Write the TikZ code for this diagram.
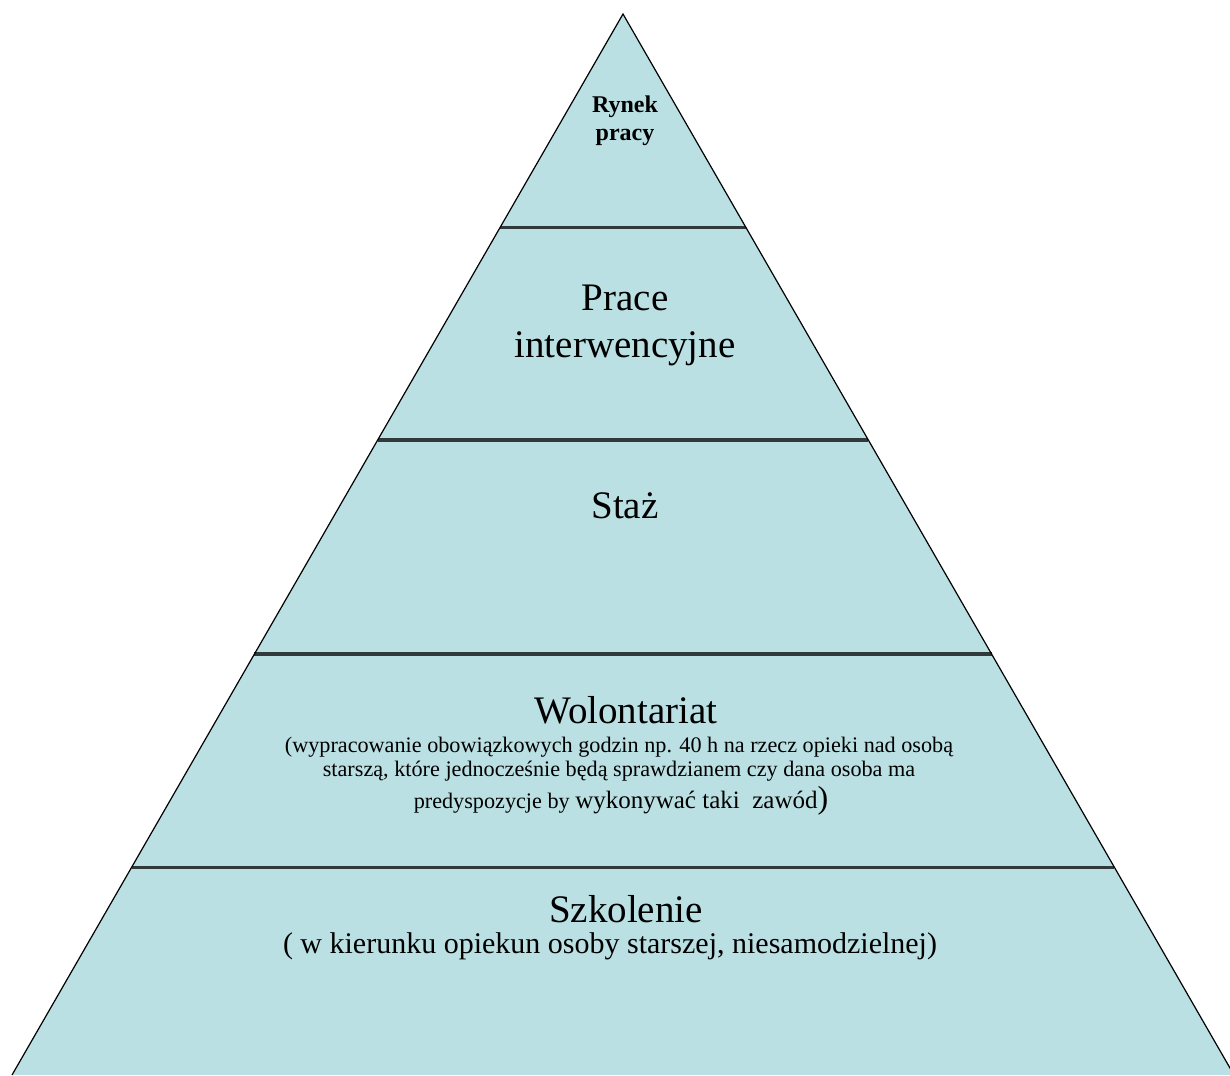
\documentclass[tikz,border=0pt]{standalone}
\usepackage{fontspec}
\setmainfont{Liberation Serif}
\usetikzlibrary{calc}
\definecolor{pyrfill}{RGB}{186,224,227}
\definecolor{divline}{RGB}{48,58,58}
\newcommand\pxsize[1]{\fontsize{\dimexpr #1pt*3/4\relax}{\dimexpr #1pt*3/4\relax}\selectfont}
\begin{document}
\begin{tikzpicture}[x=0.75pt,y=-0.75pt,
  lbl/.style={anchor=base, inner sep=0pt, text=black},
  divider/.style={draw=divline, line width=2.3pt},
  edge/.style={draw=black, line width=0.9pt}]
\useasboundingbox (0,0) rectangle (1230,1075);
\clip (0,0) rectangle (1230,1075);
\coordinate (apex) at (623,14);
\coordinate (bl) at (12,1075);
\coordinate (br) at (1234,1075);
\fill[pyrfill] (apex) -- (bl) -- (br) -- cycle;
% dividers
\foreach \t/\n in {0.2008/a,0.4015/b,0.6032/c,0.8040/d}{
  \coordinate (l\n) at ($(apex)!\t!(bl)$);
  \coordinate (r\n) at ($(apex)!\t!(br)$);
  \draw[divider] (l\n) -- (r\n);
}
\draw[edge] (bl) -- (apex) -- (br);
% texts
\node[lbl, font=\pxsize{24}\bfseries] (t1a) at (625,112) {Rynek};
\node[lbl, font=\pxsize{24}\bfseries] (t1b) at (625,140) {pracy};
\node[lbl, font=\pxsize{39}] (t2a) at (625,310) {Prace};
\node[lbl, font=\pxsize{39}] (t2b) at (625,357) {interwencyjne};
\node[lbl, font=\pxsize{39}] (t3) at (625,518) {Staż};
\node[lbl, font=\pxsize{39}] (t4) at (626,723) {Wolontariat};
\node[lbl, font=\pxsize{22.2}] (t4a) at (619,752) {(wypracowanie obowiązkowych godzin np. 40 h na rzecz opieki nad osobą};
\node[lbl, font=\pxsize{22.2}] (t4b) at (619,776) {starszą, które jednocześnie będą sprawdzianem czy dana osoba ma};
\node[lbl, font=\pxsize{22.2}] (t4c) at (621,808) {predyspozycje by {\pxsize{25}wykonywać taki\ \ zawód}{\pxsize{32})}};
\node[lbl, font=\pxsize{39}, text depth=0pt] (t5) at (626,922) {Szkolenie};
\node[lbl, font=\pxsize{30}, text height=0.7em] (t5a) at (610,953) {( w kierunku opiekun osoby starszej, niesamodzielnej)};
\end{tikzpicture}
\end{document}
